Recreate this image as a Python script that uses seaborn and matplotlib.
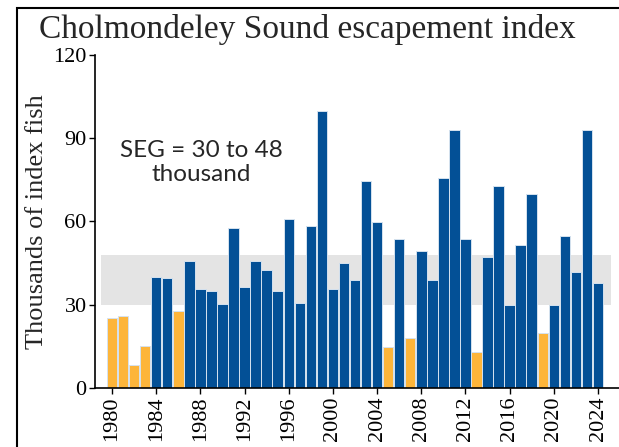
import numpy as np
import pandas as pd
import matplotlib
matplotlib.use("Agg")
import matplotlib.pyplot as plt
import seaborn as sns
from matplotlib.patches import Rectangle

# Datos
years = list(range(1980, 2025))
escapement = [25.2, 25.8, 8.2, 14.9, 40.1, 39.4, 27.8, 45.8, 35.7, 34.7,
              30.2, 57.7, 36.3, 45.8, 42.5, 34.7, 61.0, 30.5, 58.3, 99.7,
              35.7, 44.8, 38.8, 74.7, 59.8, 14.5, 53.8, 17.8, 49.3, 38.8,
              75.8, 92.8, 53.8, 13.0, 47.3, 72.8, 30.0, 51.3, 69.7, 19.8,
              30.0, 54.8, 41.9, 92.8, 37.8]
seg_low = 30
seg_high = 48

df = pd.DataFrame({"Year": [str(y) for y in years], "Escapement": escapement})
df["Group"] = np.where(df["Escapement"] < seg_low, "below", "within")

sns.set_style("ticks")
plt.rcParams["font.family"] = ["Liberation Serif", "DejaVu Serif"]

fig = plt.figure(figsize=(6.19, 4.47), dpi=100)
ax = fig.add_axes([0.1535, 0.1327, 0.8465, 0.7443])

# Banda SEG
ax.fill_between([-1.0, 45.2], seg_low, seg_high, color="#e4e4e4", lw=0, zorder=0)

sns.barplot(data=df, x="Year", y="Escapement", hue="Group",
            palette={"below": "#fdb53a", "within": "#035096"},
            saturation=1, dodge=False, width=0.95, edgecolor="#d5e2ef",
            linewidth=0.7, legend=False, ax=ax, zorder=2)

ax.set_xlim(-1.54, 45.9)
ax.set_ylim(0, 120)
ax.set_yticks([0, 30, 60, 90, 120])
ax.set_xticks(range(0, 45, 4))
ax.set_xticklabels([str(y) for y in years[::4]], rotation=90)
ax.tick_params(axis="both", labelsize=16, length=4, width=1, colors="black", pad=2)
ax.set_xlabel("")
ax.set_ylabel("Thousands of index fish", fontsize=19, labelpad=4)
for s in ["top", "right"]:
    ax.spines[s].set_visible(False)
for s in ["left", "bottom"]:
    ax.spines[s].set_linewidth(1.2)
    ax.spines[s].set_color("black")

ax.text(8.05, 81.3, "SEG = 30 to 48\nthousand", ha="center", va="center",
        fontsize=17.5, family=["Lato", "DejaVu Sans"], linespacing=1.2)

fig.text(0.497, 0.933, "Cholmondeley Sound escapement index", ha="center",
         va="center", fontsize=24)

# Marco
fig.patches.append(Rectangle((17 / 619, -0.1), 1.2, 1.0 - 8 / 447 + 0.1,
                             transform=fig.transFigure, fill=False,
                             edgecolor="black", linewidth=1.5))

fig.savefig("out.png", dpi=100)
